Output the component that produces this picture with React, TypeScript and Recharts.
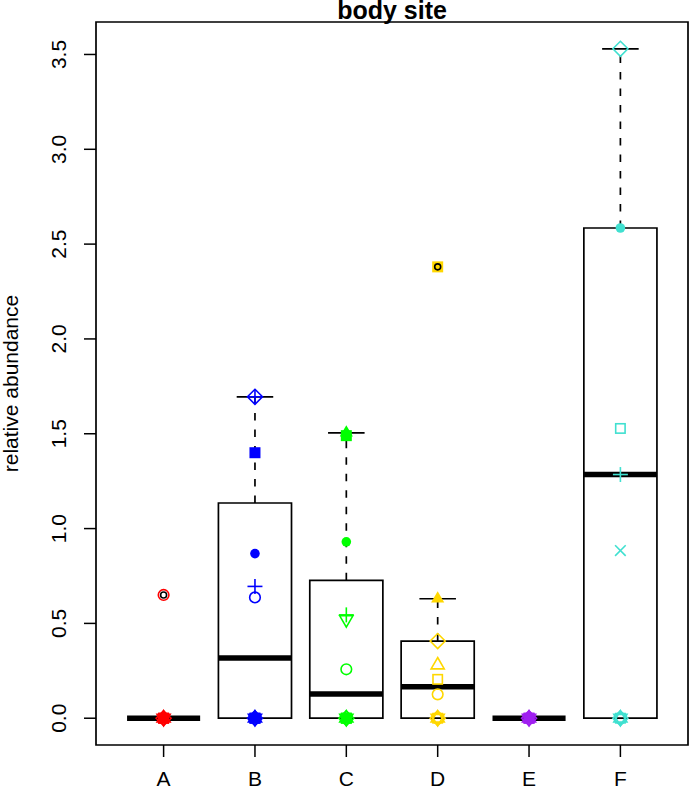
import React from 'react';
import { ComposedChart, Scatter, XAxis, YAxis, ReferenceArea, ReferenceLine } from 'recharts';

// ---------- data ----------
const categories = ['A', 'B', 'C', 'D', 'E', 'F'];
const siteColors = ['#FF0000', '#0000FF', '#00FF00', '#FFD700', '#A020F0', '#40E0D0'];

// box statistics per body site
const lowerWhisker = [0, 0, 0, 0, 0, 0];
const lowerHinge = [0, 0, 0, 0, 0, 0];
const medians = [0, 0.318, 0.128, 0.166, 0, 1.285];
const upperHinge = [0, 1.135, 0.727, 0.407, 0, 2.585];
const upperWhisker = [0, 1.695, 1.505, 0.63, 0, 3.53];

// boxplot outliers (black open circles): site index (0-based) and value
const outlierSite = [0, 3];
const outlierValues = [0.65, 2.38];

// individual samples per site: values and R-style plotting symbols (pch)
const valuesA = [0, 0, 0, 0, 0, 0, 0, 0.65];
const symbolsA = [2, 6, 5, 0, 15, 16, 17, 1];
const valuesB = [0, 0, 0, 0, 0, 0, 0.637, 0.695, 0.868, 1.40, 1.695];
const symbolsB = [2, 6, 5, 0, 15, 17, 1, 3, 16, 15, 9];
const valuesC = [0, 0, 0, 0, 0, 0, 0.258, 0.52, 0.545, 0.93, 1.49, 1.505];
const symbolsC = [2, 6, 5, 0, 15, 16, 1, 6, 3, 16, 15, 17];
const valuesD = [0, 0, 0, 0, 0, 0.126, 0.205, 0.28, 0.407, 0.63, 2.38];
const symbolsD = [2, 6, 0, 1, 5, 1, 0, 2, 5, 17, 15];
const valuesE = [0, 0, 0, 0, 0, 0, 0];
const symbolsE = [2, 6, 5, 0, 15, 16, 17];
const valuesF = [0, 0, 0, 0, 0, 0.884, 1.285, 1.528, 2.585, 3.53];
const symbolsF = [0, 1, 2, 6, 5, 4, 3, 0, 16, 5];

const yTicks = [0, 0.5, 1, 1.5, 2, 2.5, 3, 3.5];

const siteValues = [valuesA, valuesB, valuesC, valuesD, valuesE, valuesF];
const siteSymbols = [symbolsA, symbolsB, symbolsC, symbolsD, symbolsE, symbolsF];

// R-like axis extension (4%)
const yDataMax = Math.max(...upperWhisker, ...outlierValues);
const yPad = yDataMax * 0.04;
const Y_MIN = 0 - yPad;
const Y_MAX = yDataMax + yPad;
const X_MIN = 0.5 - 0.24;
const X_MAX = categories.length + 0.5 + 0.24;

const FONT = '"Liberation Sans", Arial, Helvetica, sans-serif';
const FS = 21;
const BOX_HALF = 0.4;
const CAP_HALF = 0.2;

// ---------- markers ----------
const RAD = 5.3;
const SW = 1.6;

function Marker(props: any) {
  const { cx, cy, payload } = props;
  if (cx == null || cy == null) return null;
  const pch = payload.pch;
  const color = payload.color;
  const tr = 7.6;
  const th = tr * 0.866;
  const triUp = `${cx},${cy - tr} ${cx + th},${cy + tr / 2} ${cx - th},${cy + tr / 2}`;
  const triDown = `${cx},${cy + tr} ${cx + th},${cy - tr / 2} ${cx - th},${cy - tr / 2}`;
  const d = RAD * 1.414;
  const diamond = `${cx},${cy - d} ${cx + d},${cy} ${cx},${cy + d} ${cx - d},${cy}`;
  const sq = RAD * 0.886;
  switch (pch) {
    case 0:
      return <rect x={cx - sq} y={cy - sq} width={2 * sq} height={2 * sq} fill="none" stroke={color} strokeWidth={SW} />;
    case 1:
      return <circle cx={cx} cy={cy} r={RAD} fill="none" stroke={color} strokeWidth={SW} />;
    case 2:
      return <polygon points={triUp} fill="none" stroke={color} strokeWidth={SW} />;
    case 3:
      return (
        <g stroke={color} strokeWidth={SW}>
          <line x1={cx - d} y1={cy} x2={cx + d} y2={cy} />
          <line x1={cx} y1={cy - d} x2={cx} y2={cy + d} />
        </g>
      );
    case 4:
      return (
        <g stroke={color} strokeWidth={SW}>
          <line x1={cx - RAD} y1={cy - RAD} x2={cx + RAD} y2={cy + RAD} />
          <line x1={cx - RAD} y1={cy + RAD} x2={cx + RAD} y2={cy - RAD} />
        </g>
      );
    case 5:
      return <polygon points={diamond} fill="none" stroke={color} strokeWidth={SW} />;
    case 6:
      return <polygon points={triDown} fill="none" stroke={color} strokeWidth={SW} />;
    case 9:
      return (
        <g stroke={color} strokeWidth={SW} fill="none">
          <polygon points={diamond} />
          <line x1={cx - d} y1={cy} x2={cx + d} y2={cy} />
          <line x1={cx} y1={cy - d} x2={cx} y2={cy + d} />
        </g>
      );
    case 15:
      return <rect x={cx - 5.5} y={cy - 5.5} width={11} height={11} fill={color} />;
    case 16:
      return <circle cx={cx} cy={cy} r={4.8} fill={color} />;
    case 17:
      return <polygon points={triUp} fill={color} />;
    default:
      return <circle cx={cx} cy={cy} r={4.8} fill={color} />;
  }
}

function OutlierMarker(props: any) {
  const { cx, cy } = props;
  if (cx == null || cy == null) return null;
  return <circle cx={cx} cy={cy} r={3} fill="none" stroke="#000" strokeWidth={1.6} />;
}

// ---------- ticks ----------
function YTick(props: any) {
  const { x, y, payload } = props;
  const cx = x - 23;
  return (
    <text
      x={cx}
      y={y}
      transform={`rotate(-90, ${cx}, ${y})`}
      textAnchor="middle"
      dominantBaseline="central"
      fontSize={FS}
      fontFamily={FONT}
      fill="#000"
    >
      {Number(payload.value).toFixed(1)}
    </text>
  );
}

function XTick(props: any) {
  const { x, y, payload } = props;
  return (
    <text x={x} y={y + 19} textAnchor="middle" dominantBaseline="central" fontSize={FS} fontFamily={FONT} fill="#000">
      {categories[Math.round(payload.value) - 1]}
    </text>
  );
}

function YLabel(props: any) {
  const { viewBox } = props;
  const cx = 10;
  const cy = viewBox.y + viewBox.height / 2;
  return (
    <text
      x={cx}
      y={cy}
      transform={`rotate(-90, ${cx}, ${cy})`}
      textAnchor="middle"
      dominantBaseline="central"
      fontSize={FS}
      fontFamily={FONT}
      fill="#000"
    >
      relative abundance
    </text>
  );
}

export default function App() {
  const sitePoints = siteValues.map((vals, i) =>
    vals.map((v, j) => ({ x: i + 1, y: v, pch: siteSymbols[i][j], color: siteColors[i] }))
  );
  const outlierPoints = outlierValues.map((v, k) => ({ x: outlierSite[k] + 1, y: v }));

  return (
    <div style={{ position: 'absolute', left: 0, top: 0, width: 689, height: 792, background: '#fff' }}>
      <svg width={689} height={30} style={{ position: 'absolute', left: 0, top: 0, overflow: 'visible', zIndex: 2 }}>
        <text x={392} y={19} textAnchor="middle" fontFamily={FONT} fontWeight="bold" fontSize={25} fill="#000">
          body site
        </text>
      </svg>
      <ComposedChart width={689} height={792} margin={{ top: 22, right: 1, bottom: 0, left: 0 }}>
        <XAxis
          type="number"
          dataKey="x"
          domain={[X_MIN, X_MAX]}
          allowDataOverflow
          ticks={[1, 2, 3, 4, 5, 6]}
          interval={0}
          height={47}
          axisLine={false}
          tickLine={{ stroke: '#000', strokeWidth: 1.5 }}
          tickSize={12}
          tick={<XTick />}
        />
        <YAxis
          type="number"
          dataKey="y"
          domain={[Y_MIN, Y_MAX]}
          allowDataOverflow
          ticks={yTicks}
          interval={0}
          width={96}
          axisLine={false}
          tickLine={{ stroke: '#000', strokeWidth: 1.5 }}
          tickSize={12}
          tick={<YTick />}
          label={<YLabel />}
        />
        <ReferenceArea x1={X_MIN} x2={X_MAX} y1={Y_MIN} y2={Y_MAX} fill="none" stroke="#000" strokeWidth={1.7} ifOverflow="visible" />
        {categories.map((c, i) => (
          <ReferenceArea
            key={'box' + c}
            x1={i + 1 - BOX_HALF}
            x2={i + 1 + BOX_HALF}
            y1={lowerHinge[i]}
            y2={upperHinge[i]}
            fill="#fff"
            fillOpacity={1}
            stroke="#000"
            strokeWidth={1.7}
            ifOverflow="visible"
          />
        ))}
        {categories.map((c, i) =>
          upperWhisker[i] > upperHinge[i] ? (
            <ReferenceLine
              key={'wh' + c}
              segment={[{ x: i + 1, y: upperHinge[i] }, { x: i + 1, y: upperWhisker[i] }]}
              stroke="#000"
              strokeWidth={1.7}
              strokeDasharray="7.5 9"
              ifOverflow="visible"
            />
          ) : null
        )}
        {categories.map((c, i) =>
          lowerWhisker[i] < lowerHinge[i] ? (
            <ReferenceLine
              key={'wl' + c}
              segment={[{ x: i + 1, y: lowerHinge[i] }, { x: i + 1, y: lowerWhisker[i] }]}
              stroke="#000"
              strokeWidth={1.7}
              strokeDasharray="7.5 9"
              ifOverflow="visible"
            />
          ) : null
        )}
        {categories.map((c, i) => (
          <ReferenceLine
            key={'capHi' + c}
            segment={[{ x: i + 1 - CAP_HALF, y: upperWhisker[i] }, { x: i + 1 + CAP_HALF, y: upperWhisker[i] }]}
            stroke="#000"
            strokeWidth={1.7}
            ifOverflow="visible"
          />
        ))}
        {categories.map((c, i) => (
          <ReferenceLine
            key={'med' + c}
            segment={[{ x: i + 1 - BOX_HALF, y: medians[i] }, { x: i + 1 + BOX_HALF, y: medians[i] }]}
            stroke="#000"
            strokeWidth={5.5}
            ifOverflow="visible"
          />
        ))}
        {sitePoints.map((pts, i) => (
          <Scatter key={'pts' + i} data={pts} shape={<Marker />} isAnimationActive={false} />
        ))}
        <Scatter data={outlierPoints} shape={<OutlierMarker />} isAnimationActive={false} />
      </ComposedChart>
    </div>
  );
}
